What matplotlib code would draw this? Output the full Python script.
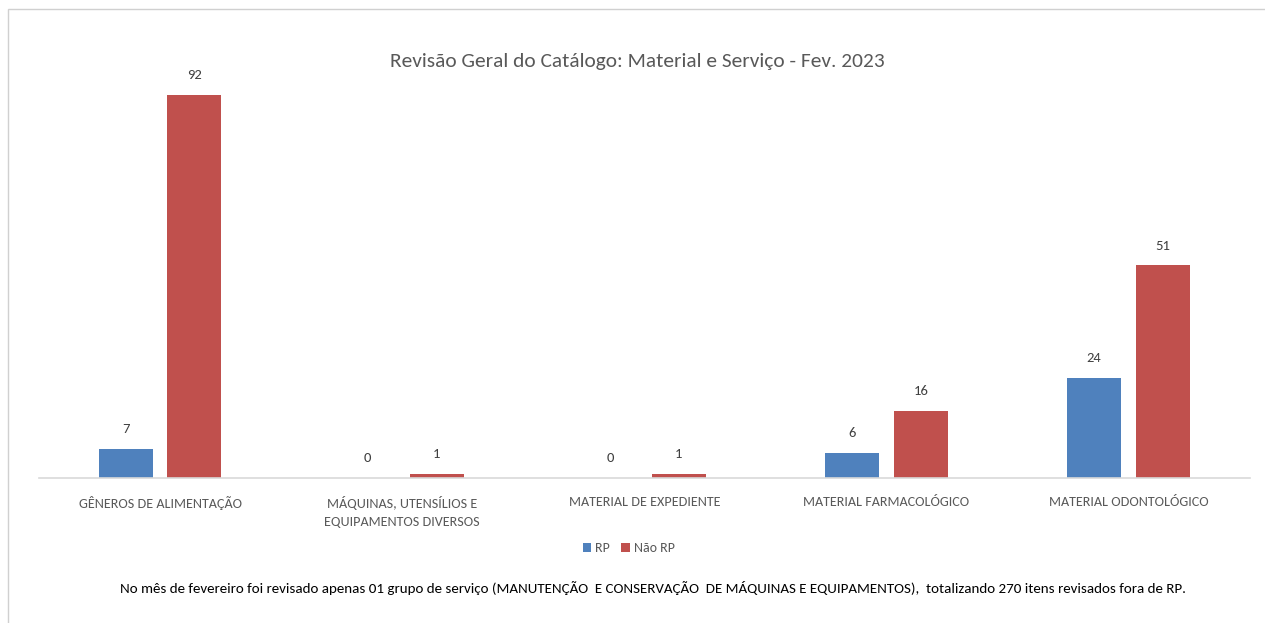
import matplotlib.pyplot as plt
import matplotlib.patches as mpatches
import numpy as np

plt.rcParams['font.family'] = ['Carlito', 'Lato', 'DejaVu Sans']

categorias = ['GÊNEROS DE ALIMENTAÇÃO', 'MÁQUINAS, UTENSÍLIOS E\nEQUIPAMENTOS DIVERSOS',
              'MATERIAL DE EXPEDIENTE', 'MATERIAL FARMACOLÓGICO', 'MATERIAL ODONTOLÓGICO']
rp = [7, 0, 0, 6, 24]
nao_rp = [92, 1, 1, 16, 51]

azul = '#4F81BD'
vermelho = '#C0504D'
cinza = '#595959'

fig = plt.figure(figsize=(12.65, 6.23), dpi=100)
ax = fig.add_axes([0.0308, 0.2327, 0.957, 0.669])

x = np.arange(len(categorias))
w = 0.223
off = 0.142
b1 = ax.bar(x - off, rp, w, color=azul, label='RP')
b2 = ax.bar(x + off, nao_rp, w, color=vermelho, label='Não RP')

for bars, vals in ((b1, rp), (b2, nao_rp)):
    for b, v in zip(bars, vals):
        ax.annotate(str(v), (b.get_x() + b.get_width() / 2, v), xytext=(0, 10),
                    textcoords='offset points', ha='center', va='bottom',
                    fontsize=10.5, color='#404040')

ax.set_xlim(-0.5, 4.5)
ax.set_ylim(0, 100)
ax.set_yticks([])
ax.set_xticks(x)
ax.set_xticklabels(categorias, fontsize=10.2, color=cinza, linespacing=1.6)
ax.tick_params(axis='x', length=0, pad=13)
for s in ('top', 'right', 'left'):
    ax.spines[s].set_visible(False)
ax.spines['bottom'].set_color('#D9D9D9')
ax.spines['bottom'].set_linewidth(1.2)

fig.text(0.504, 0.902, 'Revisão Geral do Catálogo: Material e Serviço - Fev. 2023',
         ha='center', va='center', fontsize=15.4, color=cinza)

fig.legend(handles=[b1, b2], loc='center', bbox_to_anchor=(0.497, 0.12), ncol=2,
           frameon=False, fontsize=10, handlelength=0.6, handleheight=0.6,
           handletextpad=0.3, columnspacing=0.8, labelcolor=cinza)

fig.text(0.516, 0.056, 'No mês de fevereiro foi revisado apenas 01 grupo de serviço '
         '(MANUTENÇÃO  E CONSERVAÇÃO  DE MÁQUINAS E EQUIPAMENTOS),  totalizando 270 itens '
         'revisados fora de RP.', ha='center', va='center', fontsize=10.85, color='black')

fig.patches.append(mpatches.Rectangle((8 / 1265, -0.01), 1.0, 1 - 9 / 623 + 0.01,
                                      transform=fig.transFigure, fill=False,
                                      edgecolor='#D0D0D0', linewidth=1))

fig.savefig('out.png', dpi=100)
